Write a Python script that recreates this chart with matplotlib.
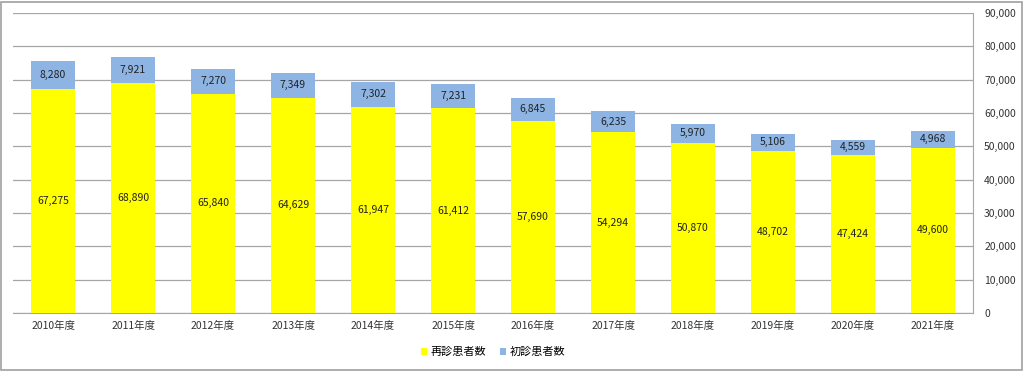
import matplotlib.pyplot as plt
from matplotlib.patches import Rectangle

plt.rcParams['font.family'] = ['Noto Sans CJK JP', 'DejaVu Sans']

# ========== DATA ==========
years = ['2010年度', '2011年度', '2012年度', '2013年度', '2014年度', '2015年度',
         '2016年度', '2017年度', '2018年度', '2019年度', '2020年度', '2021年度']
revisit = [67275, 68890, 65840, 64629, 61947, 61412, 57690, 54294, 50870, 48702, 47424, 49600]
first_visit = [8280, 7921, 7270, 7349, 7302, 7231, 6845, 6235, 5970, 5106, 4559, 4968]
yticks = list(range(0, 90001, 10000))

# ========== PLOT ==========
fig = plt.figure(figsize=(10.24, 3.71), dpi=100)
ax = fig.add_axes([13 / 1024, 1 - 313 / 371, 960 / 1024, 300 / 371])

x = range(len(years))
ax.bar(x, revisit, width=0.56, color='#FFFF00', label='再診患者数', zorder=3)
ax.bar(x, first_visit, width=0.56, bottom=revisit, color='#8EB4E3', label='初診患者数', zorder=3)

# value labels
for i in x:
    ax.text(i, revisit[i] / 2, f'{revisit[i]:,}', ha='center', va='center',
            fontsize=7.5, color='#222222', zorder=4)
    ax.text(i, revisit[i] + first_visit[i] / 2, f'{first_visit[i]:,}', ha='center',
            va='center', fontsize=7.5, color='#222222', zorder=4)

ax.set_xlim(-0.5, len(years) - 0.5)
ax.set_ylim(0, 90000)
ax.set_yticks(yticks)
ax.set_yticklabels([f'{v:,}' for v in yticks], fontsize=7.5, color='#333333')
ax.yaxis.tick_right()
ax.tick_params(axis='y', length=0, pad=8)
ax.set_xticks(list(x))
ax.set_xticklabels(years, fontsize=7.5, color='#333333')
ax.tick_params(axis='x', length=0, pad=6)

ax.grid(axis='y', color='#A6A6A6', linewidth=0.9, zorder=0)
for s in ['top', 'left']:
    ax.spines[s].set_visible(False)
ax.spines['right'].set_color('#A6A6A6')
ax.spines['bottom'].set_color('#A6A6A6')

ax.legend(loc='center', bbox_to_anchor=(0.5, -0.13), ncol=2, frameon=False,
          fontsize=8, handlelength=0.6, handleheight=0.6, handletextpad=0.3,
          columnspacing=1.2)

# outer frame
fig.patches.append(Rectangle((1 / 1024, 1 / 371), 1021 / 1024, 368 / 371,
                             transform=fig.transFigure, fill=False,
                             edgecolor='#A0A0A0', linewidth=1.2))

fig.savefig('out.png', dpi=100, facecolor='white')
